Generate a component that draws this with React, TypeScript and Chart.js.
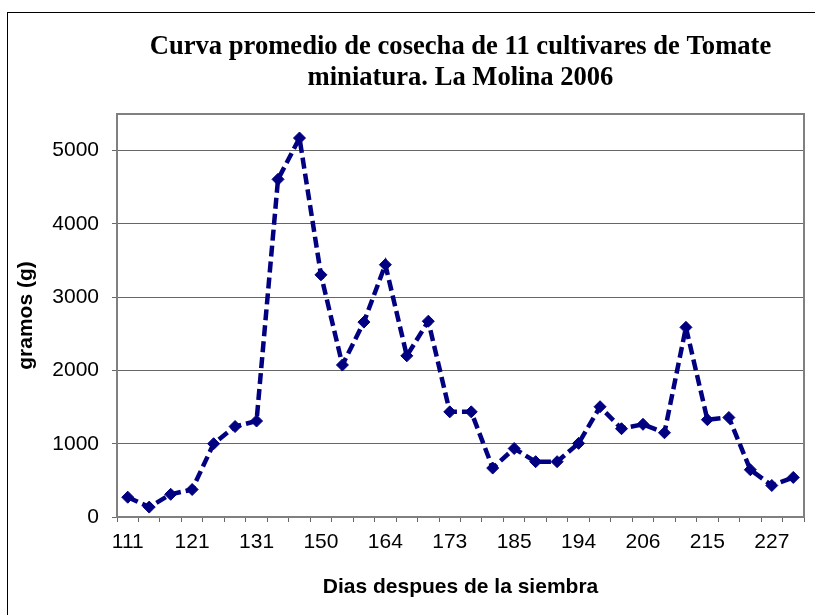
import React, { useEffect, useRef } from "react";
import { Chart, registerables } from "chart.js";

Chart.register(...registerables);

const dias: string[] = [
  "111", "114", "118", "121", "124", "128", "131", "138", "144", "150", "155",
  "159", "164", "167", "170", "173", "177", "181", "185", "188", "191", "194",
  "198", "202", "206", "209", "212", "215", "219", "223", "227", "231",
];

const gramos: number[] = [
  270, 135, 310, 375, 1000, 1235, 1310, 4608, 5172, 3305, 2075, 2660, 3443,
  2200, 2672, 1435, 1435, 668, 935, 755, 755, 1005, 1505, 1205, 1265, 1150,
  2588, 1328, 1358, 645, 430, 540,
];

const yTicks: number[] = [0, 1000, 2000, 3000, 4000, 5000];

const titleLines: string[] = [
  "Curva promedio de cosecha de 11 cultivares de Tomate",
  "miniatura. La Molina 2006",
];
const yTitle = "gramos (g)";
const xTitle = "Dias despues de la siembra";

const SANS = "'Liberation Sans', Arial, sans-serif";
const SERIF = "'Liberation Serif', 'Times New Roman', serif";

const framePlugin = {
  id: "framePlugin",
  beforeDraw(chart: any) {
    const ctx = chart.ctx;
    ctx.save();
    ctx.fillStyle = "#ffffff";
    ctx.fillRect(0, 0, chart.width, chart.height);
    ctx.strokeStyle = "#000000";
    ctx.lineWidth = 1;
    ctx.strokeRect(7.5, 12.5, 1000, 1000);
    ctx.restore();
  },
  afterDatasetsDraw(chart: any) {
    const { left, top, right, bottom } = chart.chartArea;
    const ctx = chart.ctx;
    ctx.save();
    ctx.strokeStyle = "#808080";
    ctx.lineWidth = 2;
    ctx.strokeRect(left, top, right - left, bottom - top);
    ctx.restore();
  },
};

export default function App() {
  const canvasRef = useRef<HTMLCanvasElement | null>(null);

  useEffect(() => {
    if (!canvasRef.current) return;
    const chart = new Chart(canvasRef.current, {
      type: "line",
      data: {
        labels: dias,
        datasets: [
          {
            data: gramos,
            borderColor: "#000080",
            backgroundColor: "#000080",
            borderWidth: 4.5,
            borderDash: [11, 5],
            borderCapStyle: "butt",
            tension: 0,
            pointStyle: "rectRot",
            pointRadius: 6,
            pointBackgroundColor: "#000080",
            pointBorderColor: "#000080",
            pointBorderWidth: 1,
            clip: false as any,
          },
        ],
      },
      options: {
        animation: false,
        responsive: false,
        devicePixelRatio: 1,
        layout: { padding: { left: 0, top: 0, right: 11, bottom: 0 } },
        plugins: {
          legend: { display: false },
          tooltip: { enabled: false },
          title: {
            display: true,
            fullSize: false,
            text: titleLines,
            color: "#000000",
            font: { family: SERIF, size: 26.6, weight: "bold", lineHeight: 31 / 26.6 },
            padding: { top: 32, bottom: 20 },
          },
        },
        scales: {
          x: {
            type: "category",
            offset: true,
            afterFit: (scale: any) => {
              scale.height = 98;
            },
            grid: {
              display: true,
              offset: true,
              drawOnChartArea: false,
              drawTicks: true,
              tickLength: 5,
              tickColor: "#666666",
              color: "#666666",
            },
            border: { display: true, color: "#808080", width: 2 },
            ticks: {
              autoSkip: false,
              maxRotation: 0,
              minRotation: 0,
              padding: 8,
              color: "#000000",
              font: { family: SANS, size: 21 },
              callback: (_v: any, i: number) => (i % 3 === 0 ? dias[i] : ""),
            },
            title: {
              display: true,
              text: xTitle,
              color: "#000000",
              font: { family: SANS, size: 21, weight: "bold" },
              padding: { top: 0, bottom: 15 },
            },
          },
          y: {
            type: "linear",
            min: 0,
            max: 5500,
            afterFit: (scale: any) => {
              scale.width = 117;
            },
            afterBuildTicks: (scale: any) => {
              scale.ticks = yTicks.map((v) => ({ value: v }));
            },
            grid: {
              display: true,
              color: "#666666",
              lineWidth: 1,
              drawTicks: true,
              tickLength: 5,
              tickColor: "#666666",
            },
            border: { display: true, color: "#808080", width: 2 },
            ticks: {
              autoSkip: false,
              padding: 13,
              color: "#000000",
              font: { family: SANS, size: 21 },
              callback: (v: any) => String(v),
            },
            title: {
              display: true,
              text: yTitle,
              color: "#000000",
              font: { family: SANS, size: 21, weight: "bold" },
              padding: { top: 14, bottom: 0 },
            },
          },
        },
      },
      plugins: [framePlugin],
    });
    return () => chart.destroy();
  }, []);

  return (
    <div style={{ position: "absolute", left: 0, top: 0, width: 815, height: 615, background: "#fff" }}>
      <canvas ref={canvasRef} width={815} height={615} style={{ display: "block", width: 815, height: 615 }} />
    </div>
  );
}
